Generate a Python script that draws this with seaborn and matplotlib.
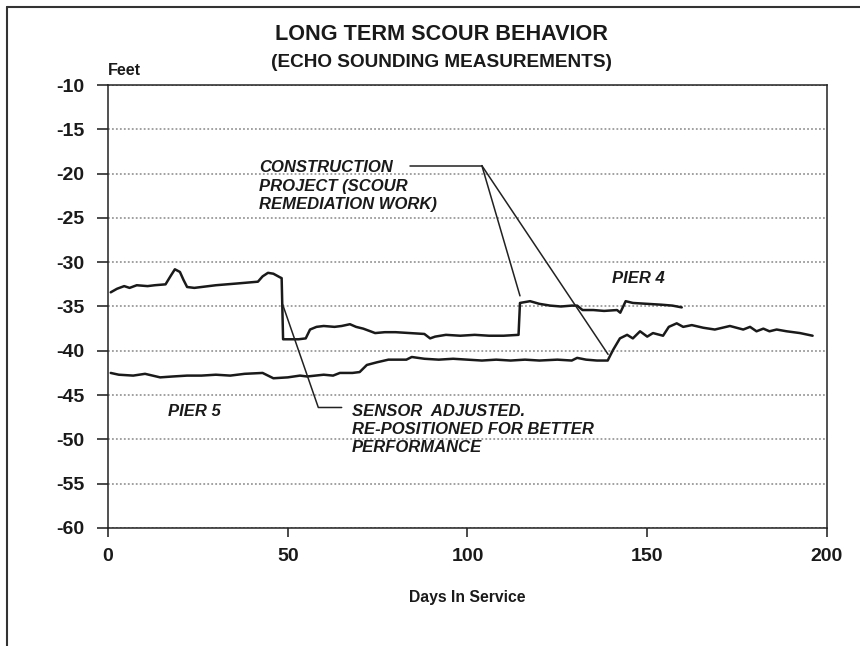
import numpy as np
import pandas as pd
import matplotlib
matplotlib.use('Agg')
import matplotlib.pyplot as plt
import seaborn as sns
from matplotlib.lines import Line2D

sns.set_theme(style='white')
plt.rcParams['font.family'] = ['Liberation Sans', 'DejaVu Sans']
plt.rcParams['axes.unicode_minus'] = False

# Pier 4 echo sounding (feet) vs days in service
pier4_days = [0.75, 2.5, 4.5, 6, 8, 11, 13, 16, 17.5, 18.6, 20, 21, 22, 24, 30, 36,
              41.7, 43, 44.5, 46, 47.8, 48.3, 48.7, 50, 53, 55, 56.2, 58, 60, 63, 65,
              67.3, 69, 71, 73, 74.3, 77, 80, 84, 88, 89.6, 91, 94, 98, 102, 106, 110,
              114.2, 114.6, 116, 117.4, 120, 123, 126, 129, 130.5, 132, 135, 138,
              141.6, 142.5, 144, 146, 150, 154, 157, 159.6]
pier4_depth = [-33.4, -33.0, -32.7, -32.9, -32.6, -32.7, -32.6, -32.5, -31.5, -30.8,
               -31.1, -32.0, -32.8, -32.9, -32.6, -32.4, -32.2, -31.6, -31.2, -31.3,
               -31.7, -31.8, -38.7, -38.7, -38.7, -38.6, -37.6, -37.3, -37.2, -37.3,
               -37.2, -37.0, -37.3, -37.5, -37.8, -38.0, -37.9, -37.9, -38.0, -38.1,
               -38.6, -38.4, -38.2, -38.3, -38.2, -38.3, -38.3, -38.2, -34.6, -34.5,
               -34.4, -34.7, -34.9, -35.0, -34.9, -34.9, -35.4, -35.4, -35.5, -35.4,
               -35.7, -34.4, -34.6, -34.7, -34.8, -34.9, -35.1]

# Pier 5
pier5_days = [0.75, 3, 7, 10.3, 14.5, 18, 22, 26, 30, 34, 38, 43, 46, 50, 53.4, 55.4,
              60, 62.6, 64.5, 68, 70, 72, 74.8, 78, 83, 84.5, 88, 92, 96, 100, 104, 108,
              112, 116, 120, 125, 129, 130.5, 133, 136, 139, 140.5, 142.4, 144.4, 146,
              148, 150, 151.6, 154.4, 156, 158.2, 160, 162.4, 165.6, 168.8, 173, 176.7,
              178.6, 180.4, 182.3, 184, 186, 188.8, 192.5, 196]
pier5_depth = [-42.5, -42.7, -42.8, -42.6, -43.0, -42.9, -42.8, -42.8, -42.7, -42.8,
               -42.6, -42.5, -43.1, -43.0, -42.8, -42.9, -42.7, -42.8, -42.5, -42.5,
               -42.4, -41.6, -41.3, -41.0, -41.0, -40.7, -40.9, -41.0, -40.9, -41.0,
               -41.1, -41.0, -41.1, -41.0, -41.1, -41.0, -41.1, -40.8, -41.0, -41.1,
               -41.1, -39.9, -38.6, -38.2, -38.6, -37.8, -38.4, -38.0, -38.3, -37.3,
               -36.9, -37.3, -37.1, -37.4, -37.6, -37.2, -37.6, -37.3, -37.8, -37.5,
               -37.8, -37.6, -37.8, -38.0, -38.3]

# annotation leader lines
construction_x = [84, 104]
construction_y = [-19.1, -19.1]
construction_targets = [(114.6, -33.8), (139.1, -40.4)]
sensor_x = [48.6, 58.5, 65]
sensor_y = [-34.8, -46.4, -46.4]

df4 = pd.DataFrame({'days': pier4_days, 'depth': pier4_depth})
df5 = pd.DataFrame({'days': pier5_days, 'depth': pier5_depth})

fig = plt.figure(figsize=(8.6, 6.46), dpi=100)
ax = fig.add_axes([0.1256, 0.1827, 0.836, 0.6857])

ax.yaxis.grid(True, linestyle=(0, (1, 1.2)), color='#9a9a9a', linewidth=1.3)
ax.xaxis.grid(False)

sns.lineplot(data=df4, x='days', y='depth', color='#1a1a1a', linewidth=1.8,
             estimator=None, sort=False, ax=ax)
sns.lineplot(data=df5, x='days', y='depth', color='#1a1a1a', linewidth=1.8,
             estimator=None, sort=False, ax=ax)

# leader lines
ax.plot(construction_x, construction_y, color='#222', linewidth=1.1)
for tx, ty in construction_targets:
    ax.plot([construction_x[1], tx], [construction_y[1], ty], color='#222', linewidth=1.1)
ax.plot(sensor_x, sensor_y, color='#222', linewidth=1.1)

txt = dict(fontsize=12, fontweight='bold', fontstyle='italic', color='#1a1a1a')
ax.text(42, -21.4, 'CONSTRUCTION\nPROJECT (SCOUR\nREMEDIATION WORK)',
        ha='left', va='center', linespacing=1.28, **txt)
ax.text(67.8, -48.9, 'SENSOR  ADJUSTED.\nRE-POSITIONED FOR BETTER\nPERFORMANCE',
        ha='left', va='center', linespacing=1.28, **txt)
ax.text(140.1, -31.8, 'PIER 4', ha='left', va='center', **txt)
ax.text(16.7, -46.9, 'PIER 5', ha='left', va='center', **txt)

ax.set_xlim(0, 200)
ax.set_ylim(-60, -10)
ax.set_xticks([0, 50, 100, 150, 200])
ax.set_yticks(np.arange(-60, -9, 5))
ax.tick_params(axis='both', direction='out', colors='#1a1a1a', width=1.1,
               labelsize=14)
ax.tick_params(axis='y', length=8, pad=9, left=True)
ax.tick_params(axis='x', length=6.5, pad=8, bottom=True)
for lab in ax.get_xticklabels() + ax.get_yticklabels():
    lab.set_fontweight('bold')

for sp in ax.spines.values():
    sp.set_visible(True)
    sp.set_color('#222')
    sp.set_linewidth(1.1)

ax.set_xlabel('Days In Service', fontsize=11.3, fontweight='bold', labelpad=18,
              color='#1a1a1a')
ax.set_ylabel('')
ax.text(0, 1.032, 'Feet', transform=ax.transAxes, ha='left', va='center',
        fontsize=11.5, fontweight='bold', color='#1a1a1a')

fig.text(0.513, 0.946, 'LONG TERM SCOUR BEHAVIOR', ha='center', va='center',
         fontsize=15.6, fontweight='bold', color='#1a1a1a')
fig.text(0.513, 0.903, '(ECHO SOUNDING MEASUREMENTS)', ha='center', va='center',
         fontsize=13.7, fontweight='bold', color='#1a1a1a')

# outer page frame
fig.add_artist(Line2D([0.008, 1.0], [0.989, 0.989], transform=fig.transFigure,
                      color='#333', linewidth=1.5))
fig.add_artist(Line2D([0.008, 0.008], [0.0, 0.989], transform=fig.transFigure,
                      color='#333', linewidth=1.5))

fig.savefig('out.png', dpi=100, facecolor='white')
